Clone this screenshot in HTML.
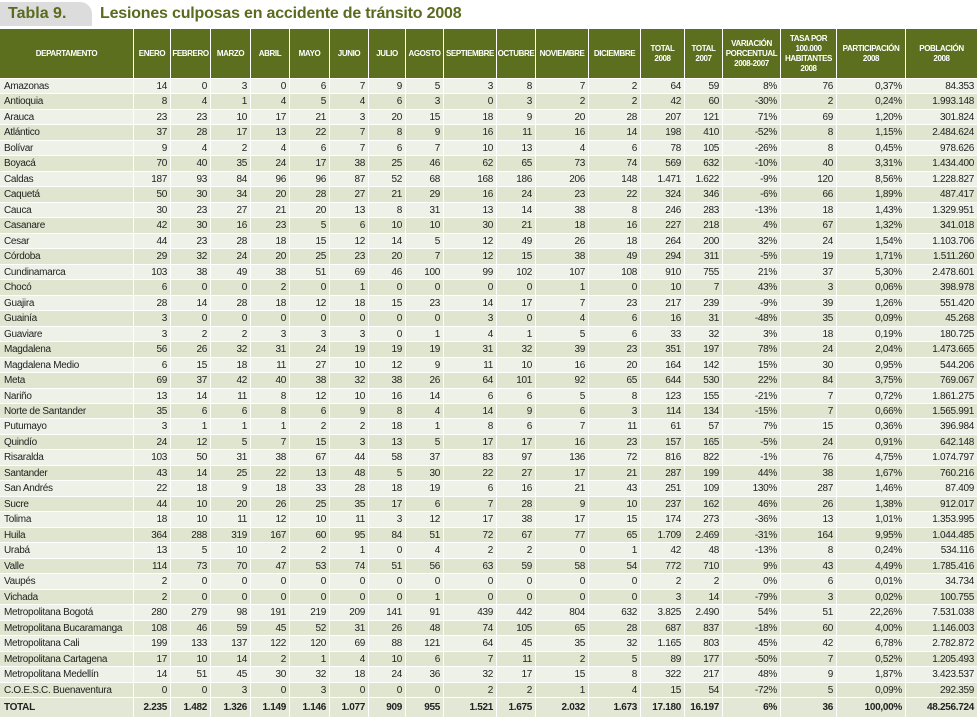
<!DOCTYPE html>
<html><head><meta charset="utf-8">
<style>
body{margin:0;width:977px;height:717px;background:#fff;overflow:hidden;font-family:"Liberation Sans",sans-serif;position:relative;}
#tab{position:absolute;left:0;top:2px;width:92px;height:24px;background:#dcdcdc;border-radius:0 12px 0 0;color:#5a6a1e;font-weight:bold;font-size:16px;line-height:24px;padding-left:8px;box-sizing:border-box;}
#title{position:absolute;left:100px;top:2px;height:24px;line-height:24px;color:#5a6a1e;font-weight:bold;font-size:16px;letter-spacing:-0.2px;}
.row{position:absolute;left:0;width:977px;}
.c{position:absolute;top:0;bottom:0;box-sizing:border-box;border-left:1px solid #fff;border-top:1px solid #fff;text-align:right;padding-right:3px;font-size:10px;letter-spacing:-0.3px;color:#222;white-space:nowrap;overflow:hidden;display:flex;align-items:center;justify-content:flex-end;}
.c.first{border-left:none;justify-content:flex-start;padding-left:4px;}
.h .c{background:#5b6f1e;color:#fff;font-size:8px;font-weight:bold;line-height:10px;letter-spacing:-0.4px;justify-content:center;text-align:center;padding:0;border-top:none;}
.a .c{background:#eef1e7;}
.b .c{background:#dfe5cf;}
.t .c{background:#e3e7d6;font-weight:bold;}
</style></head><body>
<div id="tab">Tabla 9.</div>
<div id="title">Lesiones culposas en accidente de tránsito 2008</div>
<div id="tbl"></div>
<script>
const headers=["DEPARTAMENTO","ENERO","FEBRERO","MARZO","ABRIL","MAYO","JUNIO","JULIO","AGOSTO","SEPTIEMBRE","OCTUBRE","NOVIEMBRE","DICIEMBRE","TOTAL<br>2008","TOTAL<br>2007","VARIACIÓN<br>PORCENTUAL<br>2008-2007","TASA POR<br>100.000<br>HABITANTES<br>2008","PARTICIPACIÓN<br>2008","POBLACIÓN<br>2008"];
const departments=["Amazonas","Antioquia","Arauca","Atlántico","Bolívar","Boyacá","Caldas","Caquetá","Cauca","Casanare","Cesar","Córdoba","Cundinamarca","Chocó","Guajira","Guainía","Guaviare","Magdalena","Magdalena Medio","Meta","Nariño","Norte de Santander","Putumayo","Quindío","Risaralda","Santander","San Andrés","Sucre","Tolima","Huila","Urabá","Valle","Vaupés","Vichada","Metropolitana Bogotá","Metropolitana Bucaramanga","Metropolitana Cali","Metropolitana Cartagena","Metropolitana Medellín","C.O.E.S.C. Buenaventura","TOTAL"];
const rowValues=[
"14 0 3 0 6 7 9 5 3 8 7 2 64 59 8% 76 0,37% 84.353",
"8 4 1 4 5 4 6 3 0 3 2 2 42 60 -30% 2 0,24% 1.993.148",
"23 23 10 17 21 3 20 15 18 9 20 28 207 121 71% 69 1,20% 301.824",
"37 28 17 13 22 7 8 9 16 11 16 14 198 410 -52% 8 1,15% 2.484.624",
"9 4 2 4 6 7 6 7 10 13 4 6 78 105 -26% 8 0,45% 978.626",
"70 40 35 24 17 38 25 46 62 65 73 74 569 632 -10% 40 3,31% 1.434.400",
"187 93 84 96 96 87 52 68 168 186 206 148 1.471 1.622 -9% 120 8,56% 1.228.827",
"50 30 34 20 28 27 21 29 16 24 23 22 324 346 -6% 66 1,89% 487.417",
"30 23 27 21 20 13 8 31 13 14 38 8 246 283 -13% 18 1,43% 1.329.951",
"42 30 16 23 5 6 10 10 30 21 18 16 227 218 4% 67 1,32% 341.018",
"44 23 28 18 15 12 14 5 12 49 26 18 264 200 32% 24 1,54% 1.103.706",
"29 32 24 20 25 23 20 7 12 15 38 49 294 311 -5% 19 1,71% 1.511.260",
"103 38 49 38 51 69 46 100 99 102 107 108 910 755 21% 37 5,30% 2.478.601",
"6 0 0 2 0 1 0 0 0 0 1 0 10 7 43% 3 0,06% 398.978",
"28 14 28 18 12 18 15 23 14 17 7 23 217 239 -9% 39 1,26% 551.420",
"3 0 0 0 0 0 0 0 3 0 4 6 16 31 -48% 35 0,09% 45.268",
"3 2 2 3 3 3 0 1 4 1 5 6 33 32 3% 18 0,19% 180.725",
"56 26 32 31 24 19 19 19 31 32 39 23 351 197 78% 24 2,04% 1.473.665",
"6 15 18 11 27 10 12 9 11 10 16 20 164 142 15% 30 0,95% 544.206",
"69 37 42 40 38 32 38 26 64 101 92 65 644 530 22% 84 3,75% 769.067",
"13 14 11 8 12 10 16 14 6 6 5 8 123 155 -21% 7 0,72% 1.861.275",
"35 6 6 8 6 9 8 4 14 9 6 3 114 134 -15% 7 0,66% 1.565.991",
"3 1 1 1 2 2 18 1 8 6 7 11 61 57 7% 15 0,36% 396.984",
"24 12 5 7 15 3 13 5 17 17 16 23 157 165 -5% 24 0,91% 642.148",
"103 50 31 38 67 44 58 37 83 97 136 72 816 822 -1% 76 4,75% 1.074.797",
"43 14 25 22 13 48 5 30 22 27 17 21 287 199 44% 38 1,67% 760.216",
"22 18 9 18 33 28 18 19 6 16 21 43 251 109 130% 287 1,46% 87.409",
"44 10 20 26 25 35 17 6 7 28 9 10 237 162 46% 26 1,38% 912.017",
"18 10 11 12 10 11 3 12 17 38 17 15 174 273 -36% 13 1,01% 1.353.995",
"364 288 319 167 60 95 84 51 72 67 77 65 1.709 2.469 -31% 164 9,95% 1.044.485",
"13 5 10 2 2 1 0 4 2 2 0 1 42 48 -13% 8 0,24% 534.116",
"114 73 70 47 53 74 51 56 63 59 58 54 772 710 9% 43 4,49% 1.785.416",
"2 0 0 0 0 0 0 0 0 0 0 0 2 2 0% 6 0,01% 34.734",
"2 0 0 0 0 0 0 1 0 0 0 0 3 14 -79% 3 0,02% 100.755",
"280 279 98 191 219 209 141 91 439 442 804 632 3.825 2.490 54% 51 22,26% 7.531.038",
"108 46 59 45 52 31 26 48 74 105 65 28 687 837 -18% 60 4,00% 1.146.003",
"199 133 137 122 120 69 88 121 64 45 35 32 1.165 803 45% 42 6,78% 2.782.872",
"17 10 14 2 1 4 10 6 7 11 2 5 89 177 -50% 7 0,52% 1.205.493",
"14 51 45 30 32 18 24 36 32 17 15 8 322 217 48% 9 1,87% 3.423.537",
"0 0 3 0 3 0 0 0 2 2 1 4 15 54 -72% 5 0,09% 292.359",
"2.235 1.482 1.326 1.149 1.146 1.077 909 955 1.521 1.675 2.032 1.673 17.180 16.197 6% 36 100,00% 48.256.724"
];
const colW=[133,37,40,40,39,40,39,37,38,53,39,53,52,44,38,58,56,69,72];
const tbl=document.getElementById('tbl');
function makeRow(cls,top,h,cells,isHtml){
  const r=document.createElement('div');
  r.className='row '+cls;
  r.style.top=top+'px';r.style.height=h+'px';
  let x=0;
  cells.forEach((v,j)=>{
    const c=document.createElement('div');
    c.className='c'+(j===0?' first':'');
    c.style.left=x+'px';c.style.width=colW[j]+'px';
    x+=colW[j];
    if(isHtml)c.innerHTML=v;else c.textContent=v;
    
    
    r.appendChild(c);
  });
  tbl.appendChild(r);
  return r;
}
const hr=makeRow('h',29,49,headers,true);


const pitch=(697-78)/40;
departments.forEach((d,i)=>{
  const isTotal=i===departments.length-1;
  const top=Math.round(78+i*pitch);
  const next=isTotal?717:Math.round(78+(i+1)*pitch);
  const r=makeRow(isTotal?'t':(i%2===0?'a':'b'),top,next-top,[d].concat(rowValues[i].split(' ')),false);
  
  
});
</script>
</body></html>
